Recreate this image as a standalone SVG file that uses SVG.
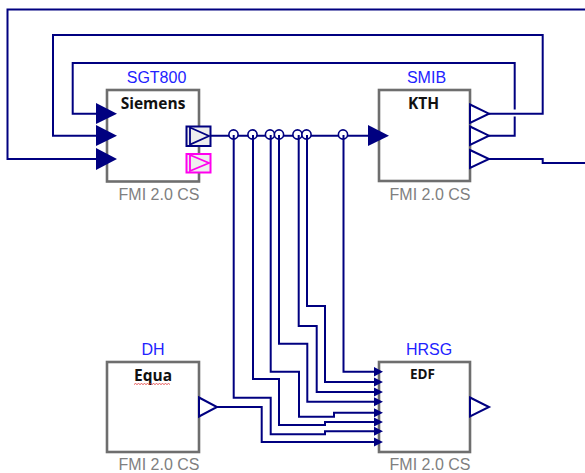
<svg xmlns="http://www.w3.org/2000/svg" width="585" height="473" viewBox="0 0 585 473">
<style>
.box{fill:#fff;stroke:#6e6e6e;stroke-width:2.6}
.w{fill:none;stroke:#000080;stroke-width:2}
.dot{fill:#fff;stroke:#000080;stroke-width:1.6}
.in{fill:#000080}
.out{fill:#fff;stroke:#000080;stroke-width:2}
.name{font:16px "Liberation Sans",Arial,sans-serif;fill:#2222ff;text-anchor:middle}
.fmi{font:16px "Liberation Sans",Arial,sans-serif;fill:#808080;text-anchor:middle}
.title{font:bold 15.5px "Open Sans",sans-serif;fill:#111;text-anchor:middle}
</style>
<rect width="585" height="473" fill="#fff"/>
<g id="connectors">
<path class="w" d="M96 113.700H72.700V63H514.700V109.500M514.700 116.500V135.700H489"/>
<path class="w" d="M96 135.700H53V35H542.700V113.700H489"/>
<path class="w" d="M96 159H7.500V9.500H585"/>
<path class="w" d="M489 159H542.700V163H585"/>
<path class="w" d="M210 135.700H369"/>
<path class="w" d="M343.500 135.700V371.700H374"/>
<path class="w" d="M307 135.700V306H325V382H374"/>
<path class="w" d="M298.700 135.700V326H316.700V392H374"/>
<path class="w" d="M279 135.700V343.700H307.300V401.700H374"/>
<path class="w" d="M270.700 135.700V371.700H299V416.700H334V412.700H374"/>
<path class="w" d="M253 135.700V379H279V425H325V422H374"/>
<path class="w" d="M233.700 135.700V397.700H270.700V434.300H325V431.300H374"/>
<path class="w" d="M217 407H261.700V442H374"/>
<circle class="dot" cx="233.500" cy="134.500" r="4.600"/>
<circle class="dot" cx="252.500" cy="134.500" r="4.600"/>
<circle class="dot" cx="270" cy="134.500" r="4.600"/>
<circle class="dot" cx="279" cy="134.500" r="4.600"/>
<circle class="dot" cx="297.500" cy="134.500" r="4.600"/>
<circle class="dot" cx="306.500" cy="134.500" r="4.600"/>
<circle class="dot" cx="343" cy="134.500" r="4.600"/>
<path class="w" d="M233.700 135V139M253 135V139M270.700 135V139M279 135V139M298.700 135V139M307 135V139M343.500 135V139"/>
</g>
<g id="SGT800">
<rect class="box" x="107" y="90" width="92" height="91.500"/>
<text class="name" x="156.500" y="83">SGT800</text>
<text class="title" x="153" y="109">Siemens</text>
<text class="fmi" x="159" y="200">FMI 2.0 CS</text>
<path class="in" d="M96 103L117 113.700L96 124ZM96 125L117 135.700L96 146ZM96 148L117 159L96 170Z"/>
<rect x="186.500" y="126.500" width="24" height="19.500" fill="#eee" stroke="#000080" stroke-width="2"/>
<path d="M190 127.500L209 136L190 144.500Z" fill="#eee" stroke="#000080" stroke-width="1.800"/>
<rect x="186.500" y="154" width="24" height="18.500" fill="#eee" stroke="#ff00ee" stroke-width="2"/>
<path d="M190 155L209 163L190 171Z" fill="#eee" stroke="#ff00ee" stroke-width="1.800"/>
</g>
<g id="SMIB">
<rect class="box" x="379" y="90" width="91" height="91"/>
<text class="name" x="426.500" y="83">SMIB</text>
<text class="title" x="423.500" y="109">KTH</text>
<text class="fmi" x="430" y="200">FMI 2.0 CS</text>
<path class="in" d="M368 125L389 135.700L368 146Z"/>
<path class="out" d="M470 104.500L489 113.700L470 123ZM470 126.500L489 135.700L470 145ZM470 150L489 159L470 168Z"/>
</g>
<g id="DH">
<rect class="box" x="107" y="362" width="92" height="90"/>
<text class="name" x="153" y="354.500">DH</text>
<text class="title" x="153" y="381">Equa</text>
<path d="M134 384.500l1.500-1 1.500 1 1.500-1 1.500 1 1.500-1 1.500 1 1.500-1 1.500 1 1.500-1 1.500 1 1.500-1 1.500 1 1.500-1 1.500 1 1.500-1 1.500 1 1.500-1 1.500 1 1.500-1 1.500 1 1.500-1 1.500 1 1.500-1 1.500 1" fill="none" stroke="#e03030" stroke-width=".8"/>
<text class="fmi" x="159" y="469.500">FMI 2.0 CS</text>
<path class="out" d="M199 397.500L217 407L199 416.500Z"/>
</g>
<g id="HRSG">
<rect class="box" x="379" y="362" width="91" height="90"/>
<text class="name" x="429" y="354.500">HRSG</text>
<text class="title" x="422.500" y="379" style="font-size:13.500px">EDF</text>
<text class="fmi" x="430" y="469.500">FMI 2.0 CS</text>
<path class="in" d="M374 367L383 371.700L374 376.500ZM374 377.500L383 382L374 386.500ZM374 387.500L383 392L374 396.500ZM374 397.200L383 401.700L374 406.200ZM374 408.200L383 412.700L374 417.200ZM374 417.500L383 422L374 426.500ZM374 426.800L383 431.300L374 435.800ZM374 437.500L383 442L374 446.500Z"/>
<path class="out" d="M470 397.500L489 407L470 416.500Z"/>
</g>
</svg>
